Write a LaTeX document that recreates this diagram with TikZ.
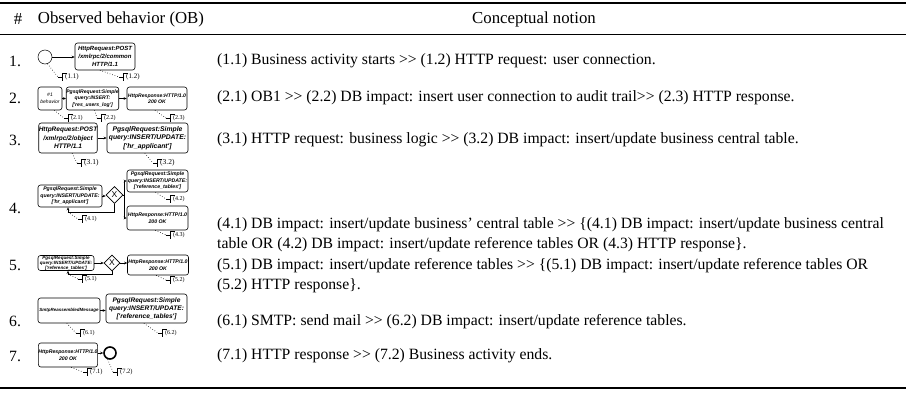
\documentclass[tikz,border=0pt]{standalone}
\usepackage{fontspec}
\setmainfont{Liberation Serif}
\newfontfamily\boxfont{Liberation Sans}
\usetikzlibrary{shapes.geometric,arrows.meta}

\tikzset{
  act/.style={draw, rounded corners=2.5pt, line width=0.6pt, align=center,
              inner sep=0pt, font=\boxfont\bfseries\itshape},
  bs/.style 2 args={font=\boxfont\bfseries\itshape\fontsize{#1}{#2}\selectfont},
  flow/.style={-{Stealth[length=3pt,width=2.6pt]}, line width=0.5pt},
  assoc/.style={dotted, line width=0.6pt},
  gate/.style={diamond, draw, line width=0.6pt, inner sep=0pt, minimum size=#1,
               font=\boxfont\fontsize{8.5}{8.5}\selectfont},
  evt/.style={circle, draw, inner sep=0pt, minimum size=#1},
  body/.style={anchor=west, align=left, inner sep=0pt,
               font=\fontsize{15.7}{20.5}\selectfont},
  head/.style={inner sep=0pt, font=\fontsize{16.8}{18}\selectfont},
  rownum/.style={anchor=west, inner sep=0pt, font=\fontsize{15.7}{18}\selectfont},
  annlbl/.style={anchor=west, inner sep=0pt, font=\fontsize{#1}{#1}\selectfont},
}

% two separate greater-than signs
\newcommand\gtgt{>{}>}

% text annotation: name, bracket position, label, source anchor, label size
\newcommand\annot[5]{%
  \coordinate (#1) at #2;
  \draw[assoc] (#4) -- ([xshift=-4pt]#1);
  \draw[line width=0.5pt] ([xshift=-4pt]#1) -- (#1);
  \draw[line width=0.5pt] ([shift={(5pt,3.8pt)}]#1) -- ([yshift=3.8pt]#1) -- ([yshift=-3.8pt]#1);
  \node[annlbl=#5] (#1-t) at ([xshift=3pt]#1) {#3};
}

\begin{document}
\begin{tikzpicture}[x=1pt,y=-1pt]
\useasboundingbox (0,0) rectangle (906,394);

% table rules
\coordinate (tl) at (0,3);   \coordinate (tr) at (906,3);
\coordinate (hl) at (0,34);  \coordinate (hr) at (906,34);
\coordinate (bl) at (0,388); \coordinate (br) at (906,388);
\draw[line width=2pt] (tl) -- (tr);
\draw[line width=0.8pt] (hl) -- (hr);
\draw[line width=2pt] (bl) -- (br);

% header
\node[head] (h1) at (18,19) {\#};
\node[head] (h2) at (121,19) {Observed behavior (OB)};
\node[head] (h3) at (534,19) {Conceptual notion};

% row numbers
\node[rownum] (n1) at (9,61)  {1.};
\node[rownum] (n2) at (9,98)  {2.};
\node[rownum] (n3) at (9,140) {3.};
\node[rownum] (n4) at (9,208) {4.};
\node[rownum] (n5) at (9,265) {5.};
\node[rownum] (n6) at (9,321) {6.};
\node[rownum] (n7) at (9,356) {7.};

% conceptual notions
\node[body] (t1) at (217,61) {(1.1) Business activity starts \gtgt{} (1.2) HTTP request: user connection.};
\node[body] (t2) at (217,98) {(2.1) OB1 \gtgt{} (2.2) DB impact: insert user connection to audit trail\gtgt{} (2.3) HTTP response.};
\node[body] (t3) at (217,140) {(3.1) HTTP request: business logic \gtgt{} (3.2) DB impact: insert/update business central table.};
\node[body] (t4) at (217,234.5) {(4.1) DB impact: insert/update business' central table \gtgt{} \{(4.1) DB impact: insert/update business central\\table OR (4.2) DB impact: insert/update reference tables OR (4.3) HTTP response\}.};
\node[body] (t5) at (217,275.5) {(5.1) DB impact: insert/update reference tables \gtgt{} \{(5.1) DB impact: insert/update reference tables OR\\(5.2) HTTP response\}.};
\node[body] (t6) at (217,322) {(6.1) SMTP: send mail \gtgt{} (6.2) DB impact: insert/update reference tables.};
\node[body] (t7) at (217,356) {(7.1) HTTP response \gtgt{} (7.2) Business activity ends.};

% ---- row 1
\node[evt=14pt, line width=0.5pt] (s1) at (45,57) {};
\node[act, bs={6}{7.6}, minimum width=60pt, minimum height=27pt] (a1) at (105,56.5)
  {HttpRequest:POST\\/xmlrpc/2/common\\HTTP/1.1};
\draw[flow] (s1) -- (s1 -| a1.west);
\annot{k11}{(62,77)}{(1.1)}{s1.-70}{7}
\annot{k12}{(123,77)}{(1.2)}{a1.-110}{7}

% ---- row 2
\node[act, minimum width=24pt, minimum height=23pt, font=\boxfont\itshape\fontsize{5}{6.5}\selectfont] (a21) at (50,98.5)
  {\#1\\behavior};
\node[act, bs={5.1}{6.3}, minimum width=51pt, minimum height=23pt] (a22) at (92.5,98.5)
  {PgsqlRequest:Simple\\query:INSERT:\\{}['res\_users\_log']};
\node[act, bs={5.1}{6.4}, minimum width=60pt, minimum height=23pt] (a23) at (157,98.5)
  {HttpResponse:HTTP/1.0\\200 OK};
\draw[flow] (a21) -- (a22);
\draw[flow] (a22) -- (a23);
\annot{k21}{(68,118)}{(2.1)}{a21.-70}{6}
\annot{k22}{(101,118)}{(2.2)}{a22.-80}{6}
\annot{k23}{(170,118)}{(2.3)}{a23.-100}{6}

% ---- row 3
\node[act, bs={6.5}{8.4}, minimum width=58pt, minimum height=30pt] (a31) at (68,138)
  {HttpRequest:POST\\/xmlrpc/2/object\\HTTP/1.1};
\node[act, bs={6.8}{8.4}, minimum width=81pt, minimum height=30pt] (a32) at (147.5,138)
  {PgsqlRequest:Simple\\query:INSERT/UPDATE:\\{}['hr\_applicant']};
\draw[flow] (a31) -- (a32);
\annot{k31}{(81,163)}{(3.1)}{a31.-75}{7.5}
\annot{k32}{(157,163)}{(3.2)}{a32.-100}{7.5}

% ---- row 4
\node[act, bs={5.2}{6.4}, minimum width=64pt, minimum height=22pt] (a41) at (70,196)
  {PgsqlRequest:Simple\\query:INSERT/UPDATE:\\{}['hr\_applicant']};
\node[gate=17pt] (g4) at (114.5,195) {X};
\node[act, bs={5.2}{6.4}, minimum width=61pt, minimum height=22pt] (a42) at (157.5,181)
  {PgsqlRequest:Simple\\query:INSERT/UPDATE:\\{}['reference\_tables']};
\node[act, bs={5.2}{6.4}, minimum width=61pt, minimum height=24pt] (a43) at (157.5,218)
  {HttpResponse:HTTP/1.0\\200 OK};
\draw[flow] (a41) -- (a41 -| g4.west);
\coordinate (j4) at (124,195);
\draw[line width=0.5pt] (g4.east) -- (j4);
\draw[flow] (j4) |- (a42.west);
\draw[flow] (j4) |- (a43.west);
\coordinate (l4a) at (114.5,212);
\coordinate (l4b) at (68,212);
\draw[flow] (g4.south) -- (l4a) -- (l4b) -- (l4b |- a41.south);
\annot{k41}{(82,219)}{(4.1)}{l4b}{6}
\annot{k42}{(170,199)}{(4.2)}{a42.-100}{6}
\annot{k43}{(170,235)}{(4.3)}{a43.-100}{6}

% ---- row 5
\node[act, bs={4.6}{5}, minimum width=56pt, minimum height=15pt] (a51) at (66,263)
  {PgsqlRequest:Simple\\query:INSERT/UPDATE:\\{}['reference\_tables']};
\node[gate=16pt] (g5) at (112,263) {X};
\node[act, bs={5.2}{6.4}, minimum width=61pt, minimum height=20pt] (a52) at (158,265)
  {HttpResponse:HTTP/1.0\\200 OK};
\draw[flow] (a51) -- (g5);
\draw[flow] (g5) -- (g5 -| a52.west);
\coordinate (l5a) at (112,274);
\coordinate (l5b) at (68,274);
\draw[flow] (g5.south) -- (l5a) -- (l5b) -- (l5b |- a51.south);
\annot{k51}{(82,279)}{(5.1)}{l5b}{6}
\annot{k52}{(170,280)}{(5.2)}{a52.-100}{6}

% ---- row 6
\node[act, bs={4.5}{6}, minimum width=62pt, minimum height=25pt] (a61) at (69,310.5)
  {SmtpReassembledMessage};
\node[act, bs={6.6}{8}, minimum width=81pt, minimum height=29pt] (a62) at (146.5,308.5)
  {PgsqlRequest:Simple\\query:INSERT/UPDATE:\\{}['reference\_tables']};
\draw[flow] (a61) -- (a61 -| a62.west);
\annot{k61}{(80,333)}{(6.1)}{a61.-100}{6}
\annot{k62}{(162,333)}{(6.2)}{a62.-100}{6}

% ---- row 7
\node[act, bs={5.2}{6.8}, minimum width=58pt, minimum height=24pt] (a71) at (68,355)
  {HttpResponse:HTTP/1.0\\200 OK};
\node[evt=12pt, line width=1.6pt] (e7) at (110,353) {};
\draw[flow] (a71.east |- e7) -- (e7);
\annot{k71}{(87,372)}{(7.1)}{a71.-75}{6.5}
\annot{k72}{(117,372)}{(7.2)}{e7.-110}{6.5}

\end{tikzpicture}
\end{document}
